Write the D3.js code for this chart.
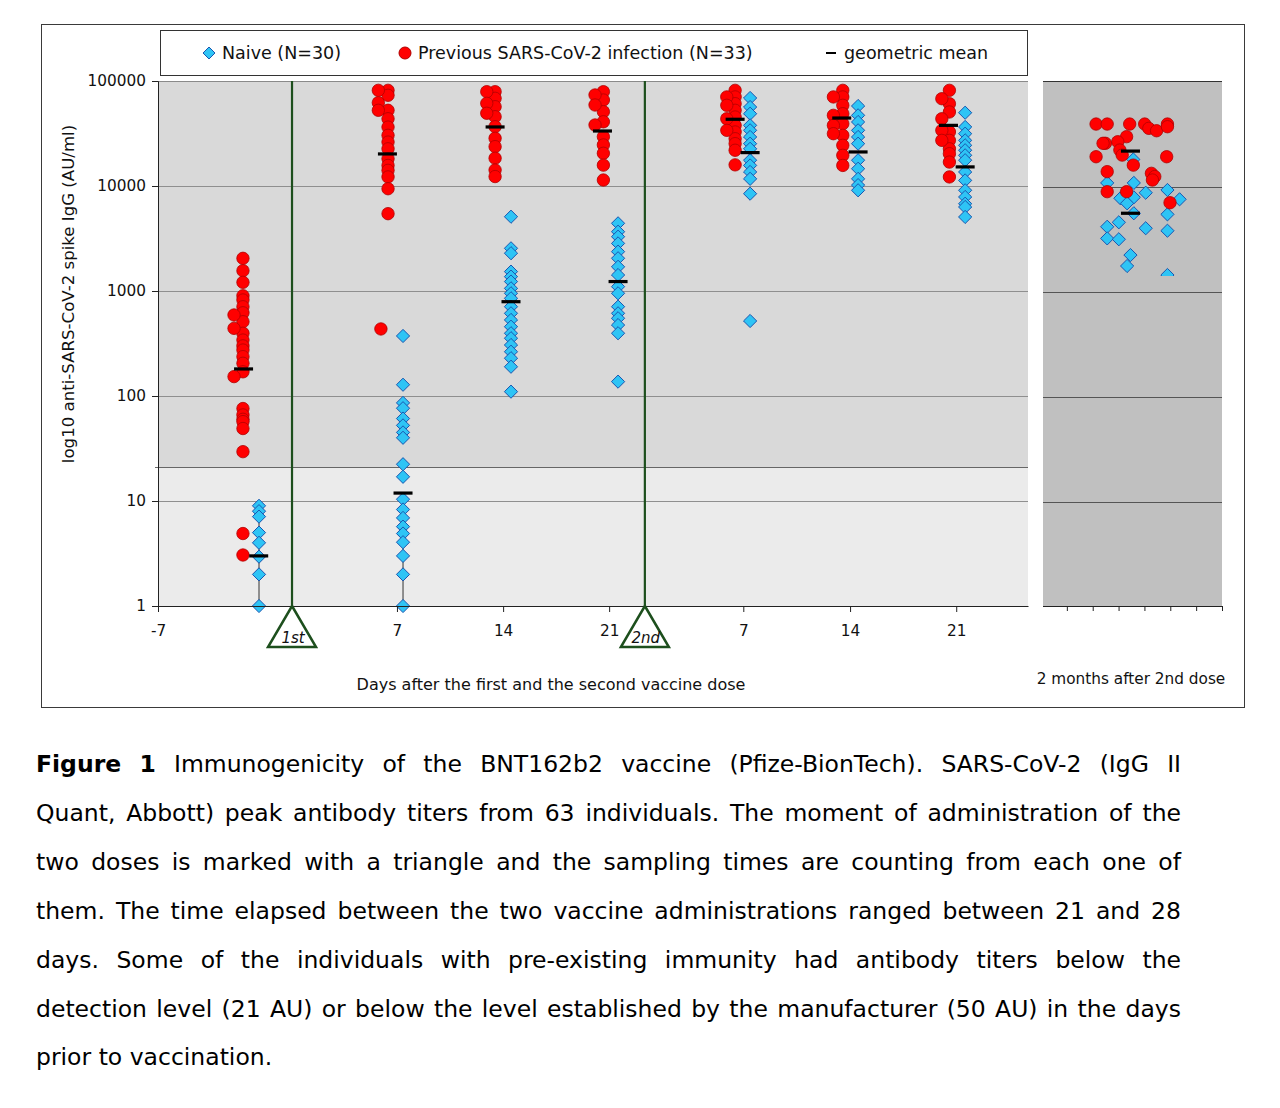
<!DOCTYPE html>
<html><head><meta charset="utf-8">
<script src="https://cdn.jsdelivr.net/npm/d3@7"></script>
<style>body{margin:0;background:#fff}svg{display:block}</style>
</head><body>
<svg id="chart" width="1280" height="1108"></svg>
<script>
// ---------- DATA ----------
const yTicks = [1, 10, 100, 1000, 10000, 100000];
const detectionLevel = 21;
// x axis of the main panel: day positions on the chart's timeline (first dose = 0)
const xTickPos = [-8.85, 6.93, 13.94, 20.94, 29.8, 36.85, 43.86];
const xTickLabels = ["-7", "7", "14", "21", "7", "14", "21"];
const dosePos = [0, 23.3];
const doseLabels = ["1st", "2nd"];

// Previous SARS-CoV-2 infection: [timeline day, AU/ml]
const prevInfection = [
  [-3.24,2048],[-3.24,1560],[-3.24,1210],[-3.24,900],[-3.24,821],[-3.24,708],[-3.24,620],[-3.24,510],[-3.24,396],[-3.24,341],[-3.24,300],[-3.24,274],[-3.24,237],[-3.24,205],[-3.24,170],[-3.24,76],[-3.24,66],[-3.24,60],[-3.24,57],[-3.24,49],[-3.24,29.5],[-3.24,4.9],[-3.24,3.06],
  [-3.83,591],[-3.83,441],[-3.83,153],
  [6.34,81500],[6.34,73100],[6.34,52600],[6.34,43700],[6.34,36400],[6.34,30400],[6.34,26200],[6.34,22600],[6.34,18200],[6.34,15700],[6.34,14100],[6.34,12200],[6.34,9420],[6.34,5450],
  [5.70,81500],[5.70,62100],[5.70,52600],[5.87,435],
  [13.41,79100],[13.41,68400],[13.41,56900],[13.41,45700],[13.41,36700],[13.41,28500],[13.41,23700],[13.41,18400],[13.41,14200],[13.41,12300],
  [12.86,79100],[12.86,61300],[12.86,49300],
  [20.56,79100],[20.56,65900],[20.56,51000],[20.56,40900],[20.56,29500],[20.56,24600],[20.56,20500],[20.56,15800],[20.56,11400],
  [20.01,73600],[20.01,59100],[20.01,38100],
  [29.26,81500],[29.26,70500],[29.26,60800],[29.26,52600],[29.26,45400],[29.26,37800],[29.26,32700],[29.26,28200],[29.26,25300],[29.26,21900],[29.26,15900],
  [28.71,70500],[28.71,58700],[28.71,43700],[28.71,33900],
  [36.37,81500],[36.37,70500],[36.37,58700],[36.37,48800],[36.37,39200],[36.37,30400],[36.37,24400],[36.37,19600],[36.37,15700],
  [35.75,70500],[35.75,47100],[35.75,37800],[35.75,31500],
  [43.41,81500],[43.41,60800],[43.41,50700],[43.41,32700],[43.41,27200],[43.41,22600],[43.41,20300],[43.41,16900],[43.41,12200],
  [42.91,67800],[42.91,43700],[42.91,33900],[42.91,27200]
];
// Naive: [timeline day, AU/ml]
const naive = [
  [-2.18,9.0],[-2.18,8.0],[-2.18,7.1],[-2.18,5.0],[-2.18,4.0],[-2.18,2.95],[-2.18,2.0],[-2.18,1],
  [7.33,373],[7.33,128],[7.33,86],[7.33,76.5],[7.33,61],[7.33,52.5],[7.33,45],[7.33,40],[7.33,22.4],[7.33,17],[7.33,10.4],[7.33,8.3],[7.33,6.9],[7.33,5.7],[7.33,4.9],[7.33,4.05],[7.33,3.0],[7.33,2.0],[7.33,1],
  [14.46,5100],[14.46,2550],[14.46,2290],[14.46,1530],[14.46,1370],[14.46,1230],[14.46,1060],[14.46,951],[14.46,852],[14.46,709],[14.46,613],[14.46,530],[14.46,457],[14.46,396],[14.46,355],[14.46,306],[14.46,264],[14.46,229],[14.46,190],[14.46,110],
  [21.53,4410],[21.53,3670],[21.53,3290],[21.53,2840],[21.53,2370],[21.53,2050],[21.53,1700],[21.53,1420],[21.53,1100],[21.53,951],[21.53,709],[21.53,613],[21.53,550],[21.53,474],[21.53,396],[21.53,137],
  [30.25,68900],[30.25,56500],[30.25,48800],[30.25,37800],[30.25,33900],[30.25,29300],[30.25,25300],[30.25,22600],[30.25,17600],[30.25,15700],[30.25,13600],[30.25,11700],[30.25,8450],[30.25,518],
  [37.38,57800],[37.38,47100],[37.38,40700],[37.38,33900],[37.38,29300],[37.38,25300],[37.38,17600],[37.38,14600],[37.38,11700],[37.38,10200],[37.38,9100],
  [44.45,49900],[44.45,36500],[44.45,31500],[44.45,27200],[44.45,24400],[44.45,21900],[44.45,19600],[44.45,17600],[44.45,13600],[44.45,11300],[44.45,9100],[44.45,7860],[44.45,6780],[44.45,6310],[44.45,5070]
];
// Geometric means
const prevMeanPos = [-3.2, 6.3, 13.41, 20.5, 29.26, 36.3, 43.35];
const prevMeans   = [181, 20200, 36500, 33400, 43200, 44400, 37800];
const naiveMeanPos = [-2.2, 7.33, 14.46, 21.53, 30.25, 37.38, 44.45];
const naiveMeans   = [3.0, 11.9, 791, 1230, 20800, 21100, 15200];
// lower/upper bars shown for the naive group before dose 1 and at day 7
const naiveBarPos  = [-2.18, 7.33];
const naiveBarLow  = [1, 1];
const naiveBarHigh = [6.2, 9.3];

// 2 months after 2nd dose panel: [panel x unit, AU/ml]
const prev2m = [
  [2.13,38900],[2.56,38900],[3.43,38900],[4.01,38900],[4.17,35400],[4.47,33600],[4.89,38900],[4.89,36700],
  [3.31,29500],[2.49,25500],[2.40,25500],[2.97,26400],[3.05,22000],[3.14,19700],[2.13,19000],[4.86,19000],
  [3.57,15800],[2.56,13700],[4.27,13200],[4.40,12300],[4.31,11400],[3.31,8830],[2.56,8830],[4.99,6930]
];
const naive2m = [
  [3.57,17900],[2.56,10700],[3.59,10700],[4.05,8630],[4.89,9160],[3.07,7640],[3.59,7800],[3.33,6840],
  [5.36,7470],[3.59,5500],[4.89,5370],[3.01,4510],[2.56,4090],[2.56,3170],[3.01,3110],[4.05,3960],
  [4.89,3750],[3.46,2200],[3.33,1730],[4.89,1420]
];
const mean2mPos = [3.46];
const prevMean2m = [21500];
const naiveMean2m = [5500];
const panel2mTicks = [1, 2, 3, 4, 5, 6, 7];
const panel2mClipValue = 1390;

const legendItems = ["Naive (N=30)", "Previous SARS-CoV-2 infection (N=33)", "geometric mean"];
const xTitle = "Days after the first and the second vaccine dose";
const yTitle = "log10 anti-SARS-CoV-2 spike IgG (AU/ml)";
const panelTitle = "2 months after 2nd dose";
const captionLines = [
  "Figure 1 Immunogenicity of the BNT162b2 vaccine (Pfize-BionTech). SARS-CoV-2 (IgG II",
  "Quant, Abbott) peak antibody titers from 63 individuals. The moment of administration of the",
  "two doses is marked with a triangle and the sampling times are counting from each one of",
  "them. The time elapsed between the two vaccine administrations ranged between 21 and 28",
  "days. Some of the individuals with pre-existing immunity had antibody titers below the",
  "detection level (21 AU) or below the level established by the manufacturer (50 AU) in the days",
  "prior to vaccination."
];

// ---------- DRAW ----------
const svg = d3.select("#chart");
const FONT = "DejaVu Sans, Verdana, sans-serif";
const RED = "#ff0000", RED_S = "#b00000", BLUE = "#2ec4f5", BLUE_S = "#1a56b0";
const GREEN = "#1d4f1d";

const P = {l:158, r:1028, t:81, b:606};
const x = d3.scaleLinear().domain([-8.85, 48.6]).range([P.l, P.r]);
const y = d3.scaleLog().domain([1, 100000]).range([P.b, P.t]);
const R = {l:1043, r:1222};
const x2 = d3.scaleLinear().domain([0, 7]).range([1041, R.r]);

// outer frame
svg.append("rect").attr("x",41.5).attr("y",24.5).attr("width",1203).attr("height",683)
  .attr("fill","#fff").attr("stroke","#3a3a3a").attr("stroke-width",1);

// main backgrounds
svg.append("rect").attr("x",P.l).attr("y",P.t).attr("width",P.r-P.l).attr("height",y(detectionLevel)-P.t).attr("fill","#d9d9d9");
svg.append("rect").attr("x",P.l).attr("y",y(detectionLevel)).attr("width",P.r-P.l).attr("height",P.b-y(detectionLevel)).attr("fill","#ebebeb");
// gridlines
svg.append("g").selectAll("line").data(yTicks.filter(d=>d>1&&d<100000)).join("line")
  .attr("x1",P.l).attr("x2",P.r).attr("y1",d=>Math.round(y(d))+0.5).attr("y2",d=>Math.round(y(d))+0.5)
  .attr("stroke","#8f8f8f").attr("stroke-width",1);
svg.append("line").attr("x1",P.l-3).attr("x2",P.r).attr("y1",Math.round(y(detectionLevel))+0.5).attr("y2",Math.round(y(detectionLevel))+0.5)
  .attr("stroke","#666").attr("stroke-width",1.2);
svg.append("line").attr("x1",P.l).attr("x2",P.r).attr("y1",P.t+0.5).attr("y2",P.t+0.5).attr("stroke","#8a8a8a");

// dose lines
svg.append("g").selectAll("line").data(dosePos).join("line")
  .attr("x1",d=>x(d)).attr("x2",d=>x(d)).attr("y1",P.t).attr("y2",P.b)
  .attr("stroke",GREEN).attr("stroke-width",2.2);

// error bars
svg.append("g").selectAll("line").data(naiveBarPos).join("line")
  .attr("x1",d=>x(d)).attr("x2",d=>x(d))
  .attr("y1",(d,i)=>y(naiveBarLow[i])).attr("y2",(d,i)=>y(naiveBarHigh[i]))
  .attr("stroke","#333").attr("stroke-width",1);

const diamond = "M0,-6.6L6.6,0L0,6.6L-6.6,0Z";
function drawNaive(g, data, sx){
  g.selectAll("path.n").data(data).join("path").attr("class","n").attr("d",diamond)
    .attr("transform",d=>`translate(${sx(d[0])},${y(d[1])})`)
    .attr("fill",BLUE).attr("stroke",BLUE_S).attr("stroke-width",1);
}
function drawPrev(g, data, sx){
  g.selectAll("circle.p").data(data).join("circle").attr("class","p")
    .attr("cx",d=>sx(d[0])).attr("cy",d=>y(d[1])).attr("r",6.2)
    .attr("fill",RED).attr("stroke",RED_S).attr("stroke-width",0.8);
}
function drawMeans(g, pos, vals, sx){
  g.selectAll(null).data(pos).join("rect")
    .attr("x",d=>sx(d)-9.5).attr("y",(d,i)=>y(vals[i])-1.6).attr("width",19).attr("height",3.2).attr("fill","#000");
}
const gMain = svg.append("g");
drawNaive(gMain.append("g"), naive, x);
drawPrev(gMain.append("g"), prevInfection, x);
drawMeans(gMain.append("g"), prevMeanPos, prevMeans, x);
drawMeans(gMain.append("g"), naiveMeanPos, naiveMeans, x);

// axes
const yAxis = d3.axisLeft(y).tickValues(yTicks).tickFormat(d3.format("d")).tickSize(6).tickPadding(6);
const gy = svg.append("g").attr("transform",`translate(${P.l},0)`).call(yAxis);
gy.selectAll("text").attr("font-family",FONT).attr("font-size",15.3).attr("fill","#111");
gy.selectAll("line,path").attr("stroke","#222");

const xAxis = d3.axisBottom(x).tickValues(xTickPos).tickFormat((d,i)=>xTickLabels[i]).tickSize(6).tickPadding(13).tickSizeOuter(0);
const gx = svg.append("g").attr("transform",`translate(0,${P.b})`).call(xAxis);
gx.selectAll("text").attr("font-family",FONT).attr("font-size",15.3).attr("fill","#111");
gx.selectAll("line,path").attr("stroke","#222");

// dose triangles
const tri = svg.append("g");
tri.selectAll("path").data(dosePos).join("path")
  .attr("d",d=>`M${x(d)},${P.b}L${x(d)+24},${P.b+41}L${x(d)-24},${P.b+41}Z`)
  .attr("fill","#fff").attr("stroke",GREEN).attr("stroke-width",2.5).attr("stroke-linejoin","miter");
tri.selectAll("text").data(dosePos).join("text")
  .attr("x",d=>x(d)+1).attr("y",P.b+37).attr("text-anchor","middle")
  .attr("font-family",FONT).attr("font-size",15).attr("font-style","italic").attr("fill","#111")
  .text((d,i)=>doseLabels[i]);

// titles
svg.append("text").attr("transform","translate(68,294) rotate(-90)").attr("text-anchor","middle")
  .attr("dominant-baseline","central").attr("font-family",FONT).attr("font-size",16.6).attr("fill","#111").text(yTitle);
svg.append("text").attr("x",551).attr("y",690).attr("text-anchor","middle")
  .attr("font-family",FONT).attr("font-size",16).attr("fill","#111").text(xTitle);
svg.append("text").attr("x",1131).attr("y",684).attr("text-anchor","middle")
  .attr("font-family",FONT).attr("font-size",15.3).attr("fill","#111").text(panelTitle);

// ---------- 2 months panel ----------
svg.append("rect").attr("x",R.l).attr("y",P.t).attr("width",R.r-R.l).attr("height",P.b-P.t).attr("fill","#c0c0c0");
svg.append("g").selectAll("line").data(yTicks.filter(d=>d>1&&d<100000)).join("line")
  .attr("x1",R.l).attr("x2",R.r).attr("y1",d=>Math.round(y(d))+1.5).attr("y2",d=>Math.round(y(d))+1.5)
  .attr("stroke","#555").attr("stroke-width",1);
svg.append("line").attr("x1",R.l).attr("x2",R.r).attr("y1",P.t+0.5).attr("y2",P.t+0.5).attr("stroke","#333");
svg.append("defs").append("clipPath").attr("id","clip2m").append("rect")
  .attr("x",R.l).attr("y",P.t).attr("width",R.r-R.l).attr("height",y(panel2mClipValue)-P.t);
const g2 = svg.append("g").attr("clip-path","url(#clip2m)");
drawNaive(g2.append("g"), naive2m, x2);
drawPrev(g2.append("g"), prev2m, x2);
drawMeans(g2.append("g"), mean2mPos, prevMean2m, x2);
drawMeans(g2.append("g"), mean2mPos, naiveMean2m, x2);
const x2Axis = d3.axisBottom(x2).tickValues(panel2mTicks).tickFormat("").tickSize(5).tickSizeOuter(0);
const gx2 = svg.append("g").attr("transform",`translate(0,${P.b})`).call(x2Axis);
gx2.select(".domain").attr("d",`M${R.l},0.5H${R.r}`).attr("stroke","#222");
gx2.selectAll("line").attr("stroke","#222");

// ---------- legend ----------
const lg = svg.append("g");
lg.append("rect").attr("x",160.5).attr("y",30.5).attr("width",867).attr("height",45).attr("fill","#fff").attr("stroke","#333");
lg.append("path").attr("d","M0,-6L6,0L0,6L-6,0Z").attr("transform","translate(209,53)").attr("fill",BLUE).attr("stroke",BLUE_S);
lg.append("circle").attr("cx",405).attr("cy",53).attr("r",6).attr("fill",RED).attr("stroke",RED_S);
lg.append("rect").attr("x",826).attr("y",52).attr("width",10).attr("height",2).attr("fill","#000");
lg.selectAll("text").data(legendItems).join("text")
  .attr("x",(d,i)=>[222,418,844][i]).attr("y",59).attr("font-family",FONT).attr("font-size",17.5).attr("fill","#111")
  .text(d=>d);

// ---------- caption (justified) ----------
const CAP = {x:36, w:1145, y0:772, lh:48.9};
const CFONT = "DejaVu Sans, Verdana, sans-serif";
const meas = svg.append("text").attr("font-family",CFONT).attr("visibility","hidden");
function wordWidth(w, bold, size){ meas.attr("font-size",size).attr("font-weight",bold?"bold":"normal").text(w); return meas.node().getComputedTextLength(); }
function layoutAt(size){
  return captionLines.map((line,i)=>{
    const words = line.split(" ");
    const bolds = words.map((w,k)=> i===0 && k<2);
    const widths = words.map((w,k)=>wordWidth(w,bolds[k],size));
    return {words,bolds,widths,total:d3.sum(widths)};
  });
}
const spaceW = s => wordWidth("a a",false,s)-2*wordWidth("a",false,s);
let capSize = 23.5, lay = layoutAt(capSize);
while (capSize > 19 && lay.slice(0,-1).some(L => (CAP.w-L.total)/(L.words.length-1) < 0.75*spaceW(capSize))) {
  capSize -= 0.25; lay = layoutAt(capSize);
}
lay.forEach((L,i)=>{
  const last = i===lay.length-1;
  const gap = last ? spaceW(capSize) : (CAP.w-L.total)/(L.words.length-1);
  const t = svg.append("text").attr("y",CAP.y0+i*CAP.lh).attr("font-family",CFONT).attr("font-size",capSize).attr("fill","#000");
  let cx = CAP.x;
  L.words.forEach((w,k)=>{
    t.append("tspan").attr("x",cx).attr("font-weight",L.bolds[k]?"bold":"normal").text(w);
    cx += L.widths[k]+gap;
  });
});
meas.remove();
</script>
</body></html>
